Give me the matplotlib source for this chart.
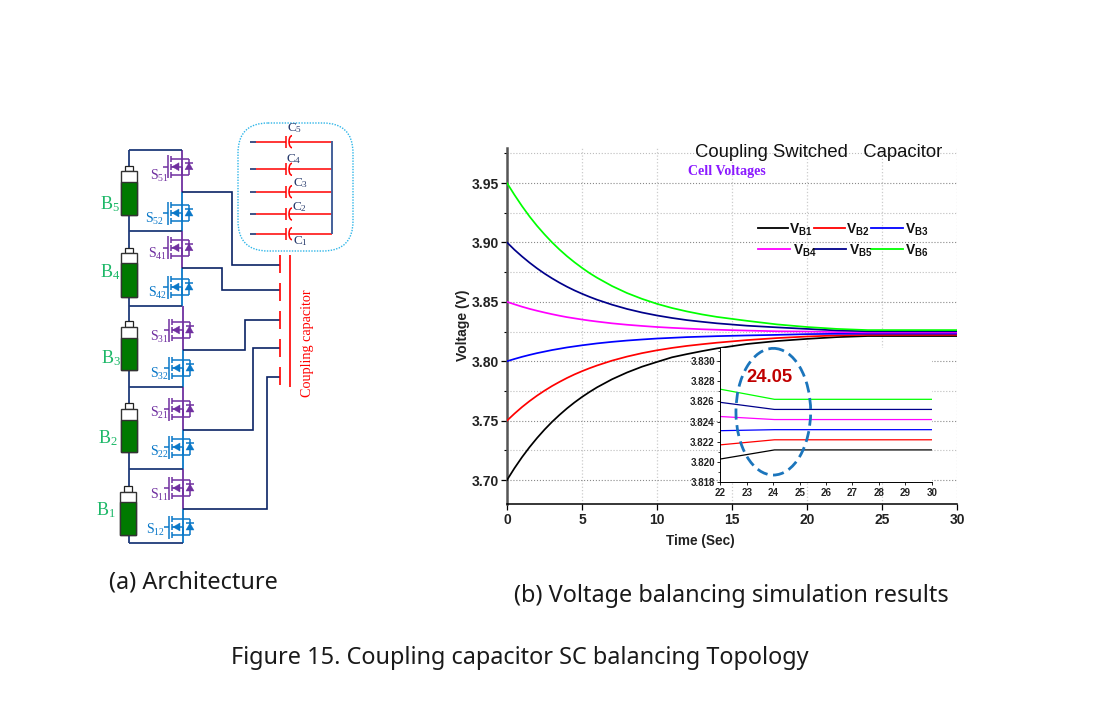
import matplotlib
matplotlib.use("Agg")
import matplotlib.pyplot as plt
from matplotlib.patches import Ellipse, FancyBboxPatch, Rectangle, Arc, Polygon

plt.rcParams['font.family'] = ['Liberation Sans', 'DejaVu Sans']
plt.rcParams['mathtext.fontset'] = 'custom'
plt.rcParams['mathtext.rm'] = 'Liberation Serif'
plt.rcParams['mathtext.bf'] = 'Liberation Sans:bold'

# ---------- data ----------
time_s = [0, 0.5, 1, 1.5, 2, 2.5, 3, 3.5, 4, 4.5, 5, 5.5, 6, 7, 8, 9, 10, 11, 12, 13, 14, 16, 18, 20, 22, 24.05, 30]
v_b1 = [3.700, 3.710, 3.7192, 3.7276, 3.7353, 3.7424, 3.7489, 3.7548, 3.7603, 3.7653, 3.7699, 3.7741, 3.7780, 3.7848, 3.7905, 3.7954, 3.7994, 3.8033, 3.8060, 3.8085, 3.8108, 3.8145, 3.8170, 3.8188, 3.8203, 3.8212, 3.8212]
v_b2 = [3.750, 3.7559, 3.7614, 3.7664, 3.7710, 3.7752, 3.7791, 3.7826, 3.7859, 3.7889, 3.7916, 3.7941, 3.7964, 3.8005, 3.8039, 3.8068, 3.8092, 3.8112, 3.8129, 3.8143, 3.8156, 3.8178, 3.8195, 3.8208, 3.8217, 3.8222, 3.8222]
v_b3 = [3.800, 3.8019, 3.8037, 3.8053, 3.8068, 3.8081, 3.8094, 3.8105, 3.8116, 3.8125, 3.8134, 3.8142, 3.8150, 3.8163, 3.8174, 3.8183, 3.8191, 3.8197, 3.8203, 3.8207, 3.8211, 3.8217, 3.8222, 3.8228, 3.8231, 3.8232, 3.8232]
v_b4 = [3.850, 3.8479, 3.8459, 3.8441, 3.8425, 3.8410, 3.8396, 3.8383, 3.8371, 3.8361, 3.8351, 3.8342, 3.8334, 3.8319, 3.8307, 3.8297, 3.8288, 3.8281, 3.8275, 3.8269, 3.8265, 3.8258, 3.8252, 3.8250, 3.8245, 3.8242, 3.8242]
v_b5 = [3.900, 3.8938, 3.8882, 3.8830, 3.8782, 3.8738, 3.8698, 3.8661, 3.8627, 3.8596, 3.8568, 3.8542, 3.8518, 3.8476, 3.8440, 3.8410, 3.8385, 3.8364, 3.8346, 3.8332, 3.8319, 3.8299, 3.8285, 3.8272, 3.8259, 3.8252, 3.8252]
v_b6 = [3.950, 3.9400, 3.9306, 3.9219, 3.9140, 3.9068, 3.9001, 3.8940, 3.8884, 3.8833, 3.8786, 3.8742, 3.8703, 3.8633, 3.8574, 3.8525, 3.8483, 3.8448, 3.8419, 3.8394, 3.8373, 3.8340, 3.8310, 3.8288, 3.8272, 3.8262, 3.8262]
series = [v_b1, v_b2, v_b3, v_b4, v_b5, v_b6]
colors = ['#000000', '#FF0000', '#0000FF', '#FF00FF', '#00008B', '#00FF00']
legend_labels = [r'$\mathbf{V_{B1}}$', r'$\mathbf{V_{B2}}$', r'$\mathbf{V_{B3}}$',
                 r'$\mathbf{V_{B4}}$', r'$\mathbf{V_{B5}}$', r'$\mathbf{V_{B6}}$']
main_xticks = [0, 5, 10, 15, 20, 25, 30]
main_yticks = [3.70, 3.75, 3.80, 3.85, 3.90, 3.95]
main_yminor = [3.725, 3.775, 3.825, 3.875, 3.925, 3.975]
inset_xticks = [22, 23, 24, 25, 26, 27, 28, 29, 30]
inset_yticks = [3.818, 3.820, 3.822, 3.824, 3.826, 3.828, 3.830]
inset_yminor = [3.819, 3.821, 3.823, 3.825, 3.827, 3.829, 3.831]

W, H = 1100, 714
fig = plt.figure(figsize=(W / 100, H / 100), dpi=100, facecolor='white')


def px_axes(left, top, right, bottom, **kw):
    return fig.add_axes([left / W, 1 - bottom / H, (right - left) / W, (bottom - top) / H], **kw)


# ---------- main chart ----------
ax = px_axes(507, 148, 957, 504)
for y, c in zip(series, colors):
    ax.plot(time_s, y, color=c, lw=1.25, zorder=3)
ax.set_xlim(0, 30)
ax.set_ylim(3.6798, 3.9795)
ax.set_xticks(main_xticks)
ax.set_yticks(main_yticks)
ax.set_yticks(main_yminor, minor=True)
ax.set_yticklabels([f'{v:.2f}' for v in main_yticks])
ax.grid(True, which='major', axis='y', color='#8a8a8a', ls=':', lw=0.8)
ax.grid(True, which='minor', axis='y', color='#bdbdbd', ls=':', lw=0.8)
ax.grid(True, which='major', axis='x', color='#cccccc', ls=':', lw=0.9)
for s in ['top', 'right']:
    ax.spines[s].set_visible(False)
ax.spines['left'].set_linewidth(1.8)
ax.spines['left'].set_color('#555555')
ax.spines['bottom'].set_linewidth(1.1)
ax.tick_params(axis='both', which='major', length=4, width=0.9, labelsize=10)
ax.tick_params(axis='y', which='major', pad=1.5)
ax.tick_params(axis='x', which='major', pad=2.5)
ax.tick_params(axis='y', which='minor', length=2.5, width=0.8)
for t in ax.get_xticklabels() + ax.get_yticklabels():
    t.set_fontweight('bold')
    t.set_color('#222222')

# ---------- inset ----------
ins = px_axes(720.3, 347.7, 931.7, 482.3, zorder=2)
for y, c in zip(series, colors):
    ins.plot(time_s, y, color=c, lw=0.9)
ins.set_xlim(22, 30)
ins.set_ylim(3.818, 3.8313)
ins.set_xticks(inset_xticks)
ins.set_yticks(inset_yticks)
ins.set_yticks(inset_yminor, minor=True)
ins.set_yticklabels([f'{v:.3f}' for v in inset_yticks])
for s in ['top', 'right']:
    ins.spines[s].set_visible(False)
ins.spines['left'].set_linewidth(0.7)
ins.spines['bottom'].set_linewidth(0.7)
ins.tick_params(axis='both', which='major', length=2.5, width=0.6, pad=1.5, labelsize=7)
ins.tick_params(axis='y', which='minor', length=1.5, width=0.5)
for t in ins.get_xticklabels() + ins.get_yticklabels():
    t.set_fontweight('bold')
    t.set_color('#222222')

# ---------- overlay in pixel coordinates ----------
ov = fig.add_axes([0, 0, 1, 1], zorder=5)
ov.set_xlim(0, W)
ov.set_ylim(H, 0)
ov.axis('off')
ov.patch.set_alpha(0)

SANS = 'Liberation Sans'
SERIF = 'Liberation Serif'
CAP = 'Noto Sans'

ov.text(666, 540.5, 'Time (Sec)', family=SANS, weight='bold', fontsize=9.8, va='center', color='#222222')
ov.text(463, 325, 'Voltage (V)', family=SANS, weight='bold', fontsize=10, rotation=90,
        ha='center', va='center', color='#222222')
ov.text(695, 152.5, 'Coupling Switched   Capacitor', family=SANS, fontsize=13.3, va='center', color='#111111')
ov.text(688, 171.5, 'Cell Voltages', family=SERIF, weight='bold', fontsize=10.1, va='center', color='#8B1AFF')

# legend
leg_rows = [227.7, 227.7, 227.7, 248.7, 248.7, 248.7]
leg_x0 = [758, 814, 871, 758, 814, 871]
leg_x1 = [788, 845, 903, 790, 846, 903]
leg_tx = [789, 845.5, 905, 793, 849, 905]
for i in range(6):
    ov.plot([leg_x0[i], leg_x1[i]], [leg_rows[i]] * 2, color=colors[i], lw=1.3)
    ov.text(leg_tx[i], leg_rows[i] + 2, legend_labels[i], fontsize=10, va='center', color='#111111')

# annotation
ov.add_patch(Ellipse((773.3, 411.7), 74.7, 126.7, fill=False, ec='#1B75BC', lw=2, ls=(0, (4, 2))))
ov.text(746, 377.5, '24.05', family=SANS, weight='bold', fontsize=13.2, color='#C00000', va='center')

# captions
ov.text(109, 583, '(a) Architecture', family=CAP, fontsize=16.9, va='center', color='#1a1a1a')
ov.text(514, 596, '(b) Voltage balancing simulation results', family=CAP, fontsize=16.9, va='center', color='#1a1a1a')
ov.text(231, 658, 'Figure 15. Coupling capacitor SC balancing Topology', family=CAP, fontsize=16.9, va='center', color='#1a1a1a')

# ---------- schematic ----------
NAVY = '#1F3A7A'
DNAVY = '#0B2265'
PURPLE = '#7030A0'
BLUE = '#0A78C8'
RED = '#FF0000'
GREEN_T = '#1DB868'
WIRE = 1.3


def seg(xs, ys, c=NAVY, lw=WIRE, z=2):
    ov.plot(xs, ys, color=c, lw=lw, solid_capstyle='butt', solid_joinstyle='miter', zorder=z)


# batteries: (left, top, green top, bottom)
batteries = [(120.5, 171, 181.7, 215), (120.5, 253, 263, 297), (120.5, 326.7, 337.5, 370),
             (120.5, 408.7, 419.5, 452), (119.5, 491.7, 502, 535)]
seg([128.5, 128.5], [150, 536], NAVY)
for l, t, g, b in batteries:
    w = 16.5
    ov.add_patch(Rectangle((l + 4, t - 5.5), w - 8, 5.5, fc='white', ec='#222222', lw=0.9, zorder=3))
    ov.add_patch(Rectangle((l, t), w, b - t, fc='white', ec='#333333', lw=1.0, zorder=3))
    ov.add_patch(Rectangle((l, g), w, b - g, fc='#007A00', ec='#333333', lw=1.0, zorder=4))

# wires between the stack
rungs = [150, 231, 306, 387, 469, 543]
mids = [192, 268, 350, 430, 509]
rail = [182, 182, 182.5, 183, 183]
seg([128.5, 182], [150, 150], NAVY)
for i, r in enumerate(rungs[1:]):
    seg([128.5, rail[i]], [r, r], NAVY)
seg([128.5, 128.5], [535, 543], NAVY)
for i in range(5):
    seg([rail[i]] * 2, [rungs[i], mids[i]], PURPLE, 1.3, z=1)
    seg([rail[i]] * 2, [mids[i], rungs[i + 1]], BLUE, 1.3, z=1)


def mosfet(R, cy, c, lead=True):
    kw = dict(c=c, lw=1.1, z=3)
    seg([R - 14, R - 14], [cy - 11.5, cy + 11.5], **kw)
    if lead:
        seg([R - 19, R - 14], [cy, cy], **kw)
    for dy in (-8, 0, 8):
        seg([R - 11, R - 11], [cy + dy - 3, cy + dy + 3], **kw)
    seg([R - 11, R + 7], [cy - 8, cy - 8], **kw)
    seg([R - 11, R + 7], [cy + 8, cy + 8], **kw)
    seg([R - 11, R], [cy, cy], **kw)
    seg([R, R], [cy, cy + 8], **kw)
    seg([R + 7, R + 7], [cy - 8, cy + 8], **kw)
    ov.add_patch(Polygon([(R - 10, cy), (R - 3, cy - 4), (R - 3, cy + 4)], fc=c, ec=c, lw=0.3, zorder=4))
    ov.add_patch(Polygon([(R + 7, cy - 4), (R + 3, cy + 3), (R + 11, cy + 3)], fc=c, ec=c, lw=0.3, zorder=4))
    seg([R + 3, R + 11], [cy - 4, cy - 4], **kw)


fet_y = [166.7, 213, 247.7, 287, 330, 368, 409, 447, 488, 527]
fet_rail = [182, 182, 182, 182, 182.5, 183, 183, 183, 183, 183]
for i, (y, R) in enumerate(zip(fet_y, fet_rail)):
    mosfet(R, y, PURPLE if i % 2 == 0 else BLUE)

# switch-node wires to the coupling capacitor plates
plate_left = 279.5
nodes = [(182, 192.3, 231.7, 265), (182, 268, 221.7, 290), (182.5, 350, 244.7, 320),
         (183, 429.7, 253.3, 347.7), (183, 508.7, 266.7, 377.3)]
for x0, y0, xm, y1 in nodes:
    seg([x0, xm, xm, plate_left], [y0, y0, y1, y1], DNAVY, 1.2)

# coupling capacitor
for top in (255, 283, 311, 339, 367):
    seg([plate_left] * 2, [top, top + 18], RED, 1.2, z=3)
seg([289.7, 289.7], [255, 387], RED, 1.2, z=3)
ov.text(308, 343, 'Coupling capacitor', family=SERIF, fontsize=10.2, color=RED, rotation=90,
        ha='center', va='center')

# capacitor bank
ov.add_patch(FancyBboxPatch((268, 153), 55, 68, boxstyle='round,pad=30,rounding_size=30', fill=False,
                            ec='#2EB5E8', lw=1, ls=(0, (1, 1))))
cap_y = [141.7, 169.3, 191.7, 214, 233.7]
for y in cap_y:
    seg([249.5, 256], [y, y], DNAVY, 1.1)
    seg([256, 285.7], [y, y], RED, 1.1)
    seg([285.7, 285.7], [y - 6, y + 6], RED, 1.1)
    ov.add_patch(Arc((292, y), 6, 12, theta1=90, theta2=270, ec=RED, lw=1.1))
    seg([289, 331.7], [y, y], RED, 1.1)
seg([331.7, 331.7], [141, 234.3], '#44609A', 1.4, z=3)

cap_lab = [('C', '1', 293, 241.5), ('C', '2', 292.5, 207.5), ('C', '3', 293, 183.5), ('C', '4', 286, 159.5), ('C', '5', 287, 128.5)]
for b, s, x, y in cap_lab:
    ov.text(x, y, rf'$\mathrm{{{b}_{s}}}$', fontsize=9.5, color='#24386B', va='center')

# labels
bat_lab = [('5', 100.5, 204), ('4', 99.5, 271.7), ('3', 101, 358), ('2', 98.5, 438), ('1', 96, 510)]
for s, x, y in bat_lab:
    ov.text(x, y, rf'$\mathrm{{B_{s}}}$', fontsize=13, color=GREEN_T, va='center')
sw_lab = [('51', 149.5, 175.5, PURPLE), ('52', 145, 219, BLUE), ('41', 148.5, 254, PURPLE), ('42', 148.5, 292.5, BLUE),
          ('31', 149.5, 336.5, PURPLE), ('32', 149.5, 374, BLUE), ('21', 149.5, 412.5, PURPLE), ('22', 150, 452, BLUE),
          ('11', 150, 495, PURPLE), ('12', 146, 530, BLUE)]
for s, x, y, c in sw_lab:
    ov.text(x, y, rf'$\mathrm{{S_{{{s}}}}}$', fontsize=10, color=c, va='center')

fig.savefig('out.png', dpi=100, facecolor='white')
